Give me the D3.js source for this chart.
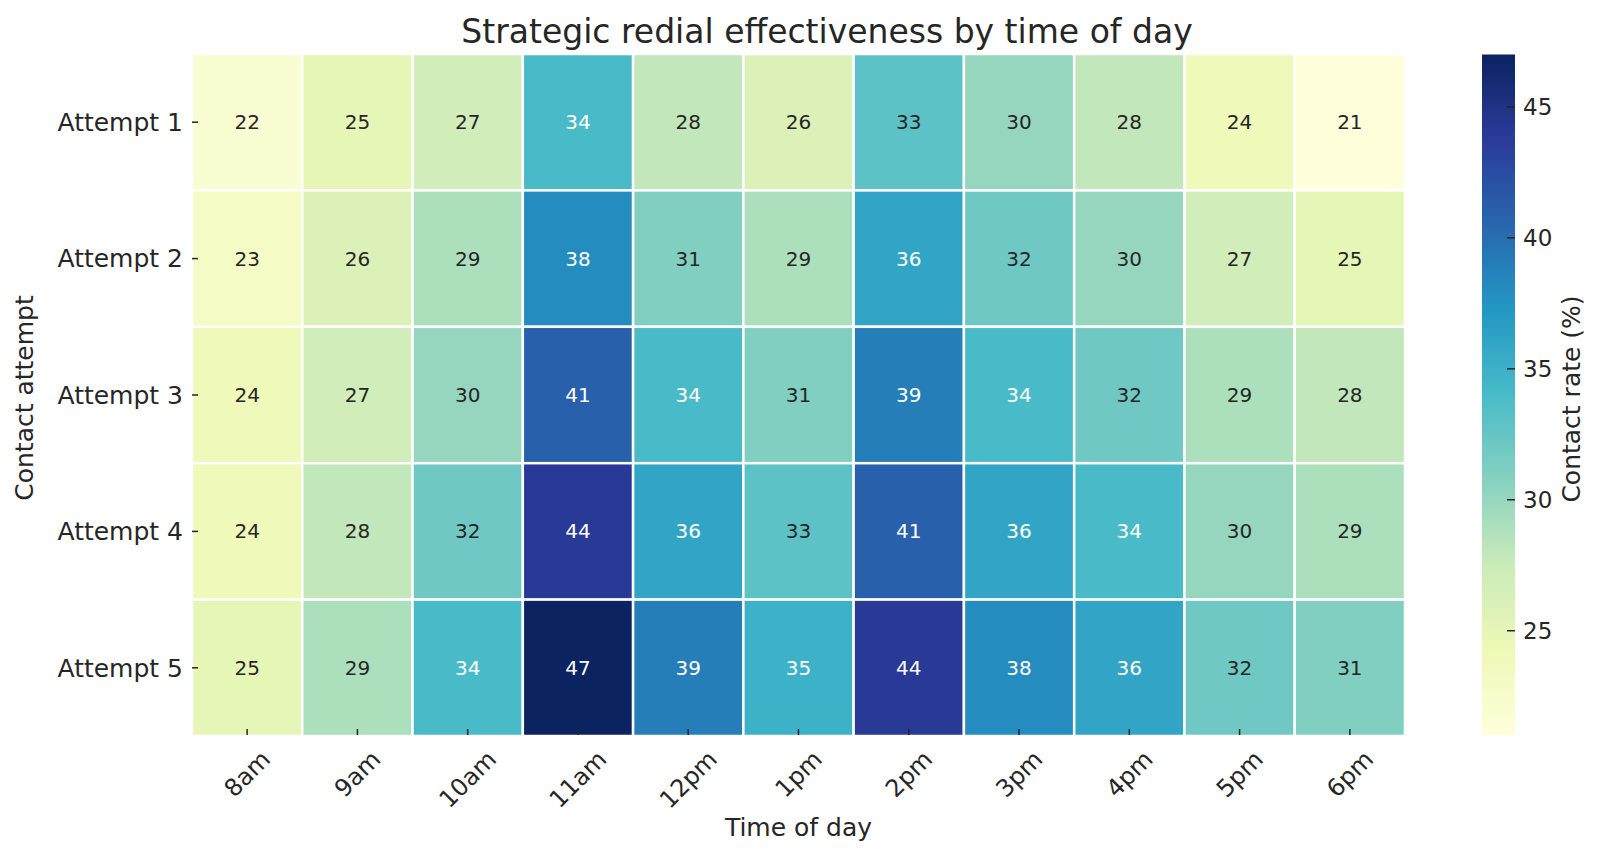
<!DOCTYPE html>
<html>
<head>
<meta charset="utf-8">
<script src="https://cdn.jsdelivr.net/npm/d3@7/dist/d3.min.js"></script>
<style>
  html, body { margin: 0; padding: 0; background: #ffffff; }
  svg { display: block; font-family: "DejaVu Sans", sans-serif; }
</style>
</head>
<body>
<svg id="chart" width="1600" height="854"></svg>
<script>
// ---- data ----
const hours = ["8am", "9am", "10am", "11am", "12pm", "1pm", "2pm", "3pm", "4pm", "5pm", "6pm"];
const attempts = ["Attempt 1", "Attempt 2", "Attempt 3", "Attempt 4", "Attempt 5"];
const attempt1 = [22, 25, 27, 34, 28, 26, 33, 30, 28, 24, 21];
const attempt2 = [23, 26, 29, 38, 31, 29, 36, 32, 30, 27, 25];
const attempt3 = [24, 27, 30, 41, 34, 31, 39, 34, 32, 29, 28];
const attempt4 = [24, 28, 32, 44, 36, 33, 41, 36, 34, 30, 29];
const attempt5 = [25, 29, 34, 47, 39, 35, 44, 38, 36, 32, 31];
const rows = [attempt1, attempt2, attempt3, attempt4, attempt5];
const colorTicks = [25, 30, 35, 40, 45];
const vmin = 21, vmax = 47;
const chartTitle = "Strategic redial effectiveness by time of day";
const xLabel = "Time of day";
const yLabel = "Contact attempt";
const cbLabel = "Contact rate (%)";

// YlGnBu (matplotlib segment colors)
const ylgnbu = ["#ffffd9", "#edf8b1", "#c7e9b4", "#7fcdbb", "#41b6c4", "#1d91c0", "#225ea8", "#253494", "#081d58"];

const cells = [];
rows.forEach((r, i) => r.forEach((v, j) => cells.push({ row: attempts[i], col: hours[j], value: v })));

const svg = d3.select("#chart");
const textColor = "#262626";

const pLeft = 192, pRight = 1405, pTop = 54, pBottom = 736;
const x = d3.scaleBand().domain(hours).range([pLeft, pRight]);
const y = d3.scaleBand().domain(attempts).range([pTop, pBottom]);
const baseColor = d3.scaleLinear()
  .domain(d3.range(ylgnbu.length).map(k => vmin + k * (vmax - vmin) / (ylgnbu.length - 1)))
  .range(ylgnbu)
  .interpolate(d3.interpolateRgb)
  .clamp(true);
// slight tonal lift to match the rendered reference
function color(v) {
  const c = d3.rgb(baseColor(v));
  const g = ch => Math.round(255 * Math.pow(ch / 255, 0.92));
  return d3.rgb(g(c.r), g(c.g), g(c.b)).formatHex();
}

function luminance(c) {
  const rgb = d3.rgb(c);
  const f = v => { v /= 255; return v <= 0.03928 ? v / 12.92 : Math.pow((v + 0.055) / 1.055, 2.4); };
  return 0.2126 * f(rgb.r) + 0.7152 * f(rgb.g) + 0.0722 * f(rgb.b);
}

// cells
svg.append("g").selectAll("rect").data(cells).join("rect")
  .attr("x", d => x(d.col))
  .attr("y", d => y(d.row))
  .attr("width", x.bandwidth())
  .attr("height", y.bandwidth())
  .attr("fill", d => color(d.value))
  .attr("stroke", "#ffffff")
  .attr("stroke-width", 2.5);

// annotations
svg.append("g").selectAll("text").data(cells).join("text")
  .attr("x", d => x(d.col) + x.bandwidth() / 2)
  .attr("y", d => y(d.row) + y.bandwidth() / 2)
  .attr("dy", "0.35em")
  .attr("text-anchor", "middle")
  .attr("font-size", 20)
  .attr("fill", d => luminance(baseColor(d.value)) > 0.408 ? textColor : "#ffffff")
  .text(d => d.value);

// y ticks
const yt = svg.append("g");
yt.selectAll("line").data(attempts).join("line")
  .attr("x1", pLeft).attr("x2", pLeft + 6)
  .attr("y1", d => y(d) + y.bandwidth() / 2).attr("y2", d => y(d) + y.bandwidth() / 2)
  .attr("stroke", textColor).attr("stroke-width", 1.5);
yt.selectAll("text").data(attempts).join("text")
  .attr("x", 183)
  .attr("y", d => y(d) + y.bandwidth() / 2)
  .attr("dy", "0.35em")
  .attr("text-anchor", "end")
  .attr("font-size", 25)
  .attr("fill", textColor)
  .text(d => d);

// x ticks
const xt = svg.append("g");
xt.selectAll("line").data(hours).join("line")
  .attr("x1", d => x(d) + x.bandwidth() / 2).attr("x2", d => x(d) + x.bandwidth() / 2)
  .attr("y1", pBottom - 1).attr("y2", pBottom - 7)
  .attr("stroke", textColor).attr("stroke-width", 1.5);
const xfs = 24;
xt.selectAll("text").data(hours).join("text")
  .attr("text-anchor", "middle")
  .attr("dy", "0.346em")
  .attr("font-size", xfs)
  .attr("fill", textColor)
  .text(d => d)
  .each(function (d) {
    const w = this.getComputedTextLength();
    const H = 1.164 * xfs;
    const cx = x(d) + x.bandwidth() / 2;
    const cy = 745 + (w + H) * Math.SQRT1_2 / 2;
    d3.select(this).attr("transform", `translate(${cx},${cy}) rotate(-45)`);
  });

// axis labels
svg.append("text")
  .attr("x", (pLeft + pRight) / 2).attr("y", 836)
  .attr("text-anchor", "middle").attr("font-size", 25).attr("fill", textColor)
  .text(xLabel);
svg.append("text")
  .attr("transform", `translate(33,398) rotate(-90)`)
  .attr("text-anchor", "middle").attr("font-size", 25).attr("fill", textColor)
  .text(yLabel);

// title
svg.append("text")
  .attr("x", 827).attr("y", 43)
  .attr("text-anchor", "middle").attr("font-size", 33).attr("fill", textColor)
  .text(chartTitle);

// colorbar
const cbX = 1482, cbW = 33;
const cbY = d3.scaleLinear().domain([vmin, vmax]).range([pBottom - 0.5, pTop + 0.5]);
const defs = svg.append("defs");
const grad = defs.append("linearGradient").attr("id", "cbgrad")
  .attr("x1", 0).attr("y1", 1).attr("x2", 0).attr("y2", 0);
const stops = d3.range(0, 101).map(k => vmin + k * (vmax - vmin) / 100);
grad.selectAll("stop").data(stops).join("stop")
  .attr("offset", d => (d - vmin) / (vmax - vmin))
  .attr("stop-color", d => color(d));
svg.append("rect")
  .attr("x", cbX).attr("y", cbY(vmax))
  .attr("width", cbW).attr("height", cbY(vmin) - cbY(vmax))
  .attr("fill", "url(#cbgrad)");
const cbt = svg.append("g");
cbt.selectAll("line").data(colorTicks).join("line")
  .attr("x1", cbX + cbW).attr("x2", cbX + cbW - 8)
  .attr("y1", d => cbY(d)).attr("y2", d => cbY(d))
  .attr("stroke", textColor).attr("stroke-width", 1.5);
cbt.selectAll("text").data(colorTicks).join("text")
  .attr("x", 1523)
  .attr("y", d => cbY(d))
  .attr("dy", "0.35em")
  .attr("font-size", 23)
  .attr("fill", textColor)
  .text(d => d);
svg.append("text")
  .attr("transform", `translate(1580,399) rotate(-90)`)
  .attr("text-anchor", "middle").attr("font-size", 25).attr("fill", textColor)
  .text(cbLabel);
</script>
</body>
</html>
